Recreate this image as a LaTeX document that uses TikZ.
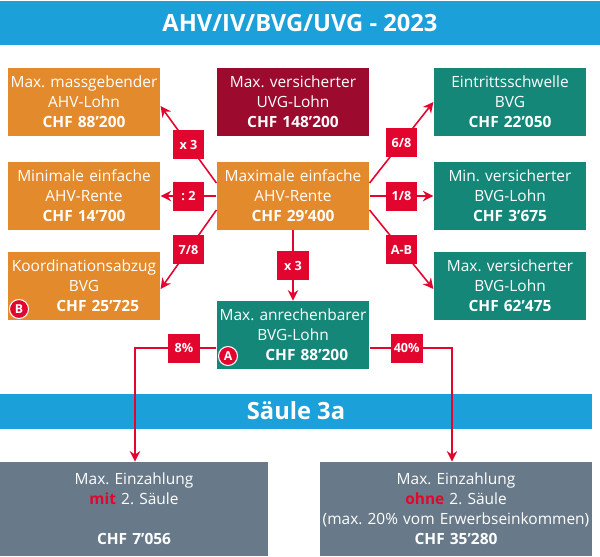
\documentclass[tikz,border=0pt]{standalone}
\usepackage{fontspec}
\setmainfont{Open Sans}
\usetikzlibrary{arrows.meta, positioning}
\frenchspacing
\definecolor{ahvblue}{HTML}{1CA0D9}
\definecolor{ahvorange}{HTML}{E38A2C}
\definecolor{ahvwine}{HTML}{9C0A2E}
\definecolor{ahvteal}{HTML}{148779}
\definecolor{ahvred}{HTML}{E2062E}
\definecolor{ahvgrey}{HTML}{687A89}
\tikzstyle{box} = [rectangle, minimum width=3.05cm, minimum height=1.36cm, text width=3.05cm, align=center, text=white, font=\fontsize{8.8}{11.4}\selectfont, inner sep=0pt]
\tikzstyle{factor} = [rectangle, fill=ahvred, text=white, font=\fontsize{7.2}{8}\selectfont\bfseries, minimum width=0.64cm, minimum height=0.58cm, inner sep=0pt]
\tikzstyle{arrow} = [ahvred, line width=0.9pt, -{Stealth[length=6pt,width=6pt]}]
\tikzstyle{bar} = [rectangle, fill=ahvblue, text=white, font=\fontsize{13.5}{14}\selectfont\bfseries, inner sep=0pt]
\tikzstyle{badge} = [circle, fill=ahvred, text=white, draw=white, line width=0.6pt, font=\fontsize{7}{7}\selectfont\bfseries, inner sep=0.5pt, minimum size=0.38cm]
\newcommand{\chf}[1]{\textbf{CHF #1}}
\begin{document}
\begin{tikzpicture}[x=0.02cm, y=-0.02cm]
	\useasboundingbox (0,0) rectangle (600,556);
	\node (title) [bar, minimum width=12cm, minimum height=0.88cm] at (300,23) {AHV/IV/BVG/UVG - 2023};
	\node (saule) [bar, minimum width=11.84cm, minimum height=0.7cm] at (296,411) {Säule 3a};
	% upper row
	\node (masslohn) [box, fill=ahvorange] at (84,102) {Max. massgebender\\AHV-Lohn\\\chf{88'200}};
	\node (uvg) [box, fill=ahvwine] at (293,102) {Max. versicherter\\UVG-Lohn\\\chf{148'200}};
	\node (schwelle) [box, fill=ahvteal] at (510,102) {Eintrittsschwelle\\BVG\\\chf{22'050}};
	% middle row
	\node (minrente) [box, fill=ahvorange] at (84,196) {Minimale einfache\\AHV-Rente\\\chf{14'700}};
	\node (maxrente) [box, fill=ahvorange] at (293,196) {Maximale einfache\\AHV-Rente\\\chf{29'400}};
	\node (minbvg) [box, fill=ahvteal] at (510,196) {Min. versicherter\\BVG-Lohn\\\chf{3'675}};
	% lower row
	\node (koord) [box, fill=ahvorange] at (84,286) {Koordinationsabzug\\BVG\\\hspace*{0.55cm}\chf{25'725}};
	\node (maxbvg) [box, fill=ahvteal] at (510,286) {Max. versicherter\\BVG-Lohn\\\chf{62'475}};
	\node (anrech) [box, fill=ahvteal] at (293,335) {Max. anrechenbarer\\BVG-Lohn\\\hspace*{0.55cm}\chf{88'200}};
	\node (badgeb) [badge] at (19,309) {B};
	\node (badgea) [badge] at (228,356) {A};
	% bottom
	\node (mit) [box, fill=ahvgrey, minimum width=5.36cm, text width=5.3cm, minimum height=1.88cm] at (134,509) {Max. Einzahlung\\\textcolor{ahvred}{\textbf{mit}} 2. Säule\\[11.4pt]\chf{7'056}};
	\node (ohne) [box, fill=ahvgrey, minimum width=5.44cm, text width=5.4cm, minimum height=1.88cm] at (456,509) {Max. Einzahlung\\\textcolor{ahvred}{\textbf{ohne}} 2. Säule\\(max. 20\% vom Erwerbseinkommen)\\\chf{35'280}};
	% factors
	\draw [arrow] (maxrente.west |- 0,183) -- node[factor] {x 3} (masslohn.east |- 0,106);
	\draw [arrow] (maxrente.west) -- node[factor] {: 2} (minrente.east);
	\draw [arrow] (maxrente.west |- 0,210) -- node[factor] {7/8} (koord.east |- 0,289);
	\draw [arrow] (maxrente.east |- 0,183) -- node[factor] {6/8} (schwelle.east -| minbvg.west);
	\draw [arrow] (maxrente.east) -- node[factor] {1/8} (minbvg.west);
	\draw [arrow] (maxrente.east |- 0,210) -- node[factor] {A-B} (maxbvg.west |- 0,289);
	\draw [arrow] (maxrente.south) -- node[factor] {x 3} (anrech.north);
	\coordinate (lknick) at (135,348);
	\coordinate (rknick) at (452,348);
	\draw [arrow] (anrech.west |- lknick) -- node[factor, pos=0.4] {8\%} (lknick) -- (mit.north -| lknick);
	\draw [arrow] (anrech.east |- rknick) -- node[factor, pos=0.45] {40\%} (rknick) -- (ohne.north -| rknick);
\end{tikzpicture}
\end{document}
